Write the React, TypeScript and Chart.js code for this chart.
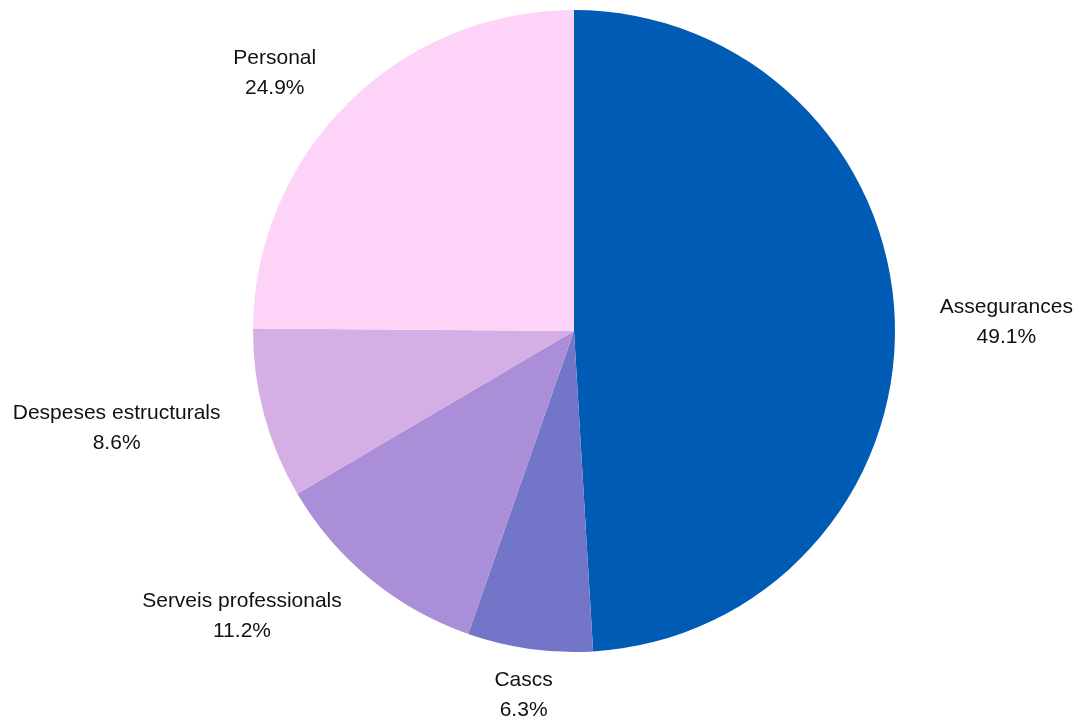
import React, { useEffect, useRef } from "react";
import { Chart, registerables } from "chart.js";

Chart.register(...registerables);

const categories = ["Assegurances", "Cascs", "Serveis professionals", "Despeses estructurals", "Personal"];
const values = [49.1, 6.3, 11.2, 8.6, 24.9];
const percentLabels = ["49.1%", "6.3%", "11.2%", "8.6%", "24.9%"];
const colors = ["#005BB5", "#7375C8", "#AA8ED8", "#D5AEE6", "#FDD3F8"];

const outsideLabels = {
  id: "outsideLabels",
  afterDatasetsDraw(chart: any) {
    const ctx = chart.ctx;
    const meta = chart.getDatasetMeta(0);
    ctx.save();
    ctx.font = '21px "Liberation Sans", Arial, sans-serif';
    ctx.fillStyle = "#111";
    ctx.textBaseline = "middle";
    ctx.textAlign = "center";
    const lineH = 30;
    meta.data.forEach((arc: any, i: number) => {
      const { x, y, startAngle, endAngle, outerRadius } = arc.getProps(
        ["x", "y", "startAngle", "endAngle", "outerRadius"],
        true
      );
      const mid = (startAngle + endAngle) / 2;
      const d = outerRadius + 45;
      const px = x + Math.cos(mid) * d;
      const py = y + Math.sin(mid) * d + 2;
      const lines = [categories[i], percentLabels[i]];
      const w = Math.max(...lines.map((l) => ctx.measureText(l).width));
      const c = Math.cos(mid);
      let cx = px;
      if (c > 0.3) cx = px + w / 2;
      else if (c < -0.3) cx = px - w / 2;
      const top = py - ((lines.length - 1) * lineH) / 2;
      lines.forEach((l, k) => ctx.fillText(l, cx, top + k * lineH));
    });
    ctx.restore();
  },
};

export default function App() {
  const ref = useRef<HTMLCanvasElement | null>(null);
  useEffect(() => {
    document.body.style.margin = "0";
    const chart = new Chart(ref.current as HTMLCanvasElement, {
      type: "pie",
      data: {
        labels: categories,
        datasets: [
          {
            data: values,
            backgroundColor: colors,
            borderWidth: 0,
          },
        ],
      },
      options: {
        responsive: false,
        animation: false,
        layout: { padding: { left: 253, right: 185, top: 10, bottom: 68 } },
        plugins: { legend: { display: false }, tooltip: { enabled: false } },
      },
      plugins: [outsideLabels],
    });
    return () => chart.destroy();
  }, []);
  return (
    <div style={{ width: 1080, height: 720, background: "#fff" }}>
      <canvas ref={ref} width={1080} height={720} />
    </div>
  );
}
